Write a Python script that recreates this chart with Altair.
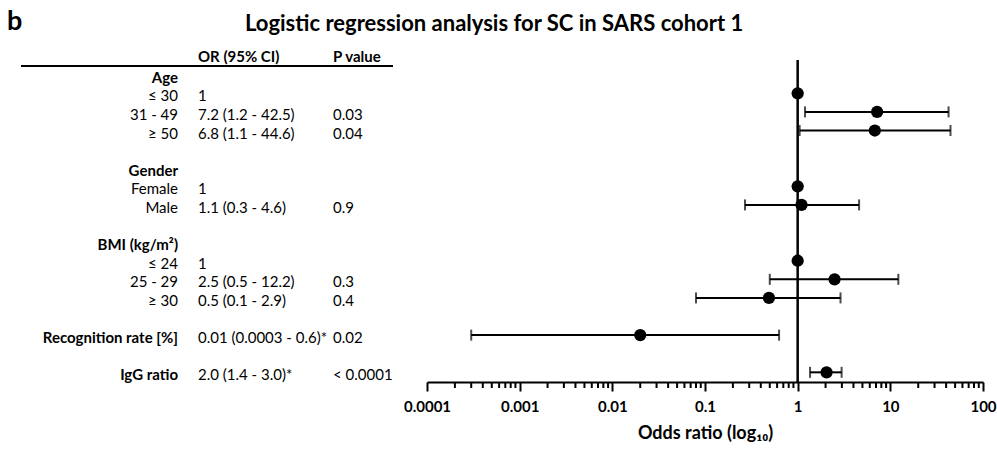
import altair as alt
import pandas as pd

# ---------------- data ----------------
row_labels = ["Age", "≤ 30", "31 - 49", "≥ 50", "",
              "Gender", "Female", "Male", "",
              "BMI (kg/m²)", "≤ 24", "25 - 29", "≥ 30", "",
              "Recognition rate [%]", "", "IgG ratio"]
is_group = [True, False, False, False, False,
            True, False, False, False,
            True, False, False, False, False,
            True, False, True]
or_text = ["", "1", "7.2 (1.2 - 42.5)", "6.8 (1.1 - 44.6)", "",
           "", "1", "1.1 (0.3 - 4.6)", "",
           "", "1", "2.5 (0.5 - 12.2)", "0.5 (0.1 - 2.9)", "",
           "0.01 (0.0003 - 0.6)*", "", "2.0 (1.4 - 3.0)*"]
p_text = ["", "", "0.03", "0.04", "",
          "", "", "0.9", "",
          "", "", "0.3", "0.4", "",
          "0.02", "", "< 0.0001"]
# plotted values
odds = [None, 1.0, 7.2, 6.8, None,
        None, 1.0, 1.1, None,
        None, 1.0, 2.5, 0.49, None,
        0.02, None, 2.05]
ci_low = [None, None, 1.2, 1.05, None,
          None, None, 0.27, None,
          None, None, 0.5, 0.08, None,
          0.0003, None, 1.36]
ci_high = [None, None, 42.5, 44.6, None,
           None, None, 4.6, None,
           None, None, 12.2, 2.9, None,
           0.63, None, 2.98]
header_text = ["OR (95% CI)", "P value"]
major_ticks = [0.0001, 0.001, 0.01, 0.1, 1, 10, 100]
minor_ticks = [k * 10.0 ** e for e in range(-4, 2) for k in range(2, 10)]

df = pd.DataFrame({
    "row": list(range(len(row_labels))),
    "label": row_labels,
    "group": is_group,
    "or_text": or_text,
    "p_text": p_text,
    "odds": odds,
    "lo": ci_low,
    "hi": ci_high,
})

W, H = 556, 322
FONT = "Lato"
X_LAB, X_OR, X_P = 178 - 427, 198 - 427, 333 - 427

xscale = alt.Scale(type="log", domain=[0.0001, 100], nice=False)
yscale = alt.Scale(domain=[-0.79, 16.52], reverse=True, nice=False, zero=False)

base = alt.Chart(df)

xaxis = alt.Axis(values=major_ticks, format="~g", grid=False,
                 domainColor="black", domainWidth=2,
                 tickColor="black", tickWidth=2, tickSize=9,
                 labelFont=FONT, labelFontWeight="bold", labelFontSize=15,
                 labelColor="black", labelPadding=8, labelFlush=False,
                 title="Odds ratio (log₁₀)", titleFont=FONT,
                 titleFontWeight="bold", titleFontSize=18,
                 titleColor="black", titlePadding=10)

refline = base.mark_rule(color="black", strokeWidth=2.5).encode(
    x=alt.X("odds:Q", scale=xscale, axis=xaxis),
).transform_filter("datum.row == 1")

# minor ticks hanging below the axis line
minor = alt.Chart(pd.DataFrame({"t": minor_ticks})).mark_tick(
    color="black", orient="vertical", thickness=2, size=6, yOffset=3,
    opacity=1).encode(
    x=alt.X("t:Q", scale=xscale),
    y=alt.value(H),
)

ci = base.transform_filter("isValid(datum.lo)")
err = ci.mark_rule(color="black", strokeWidth=2).encode(
    x=alt.X("lo:Q", scale=xscale), x2="hi:Q",
    y=alt.Y("row:Q", scale=yscale, axis=None),
)
cap_lo = ci.mark_tick(color="black", orient="vertical", size=11, thickness=2).encode(
    x=alt.X("lo:Q", scale=xscale), y=alt.Y("row:Q", scale=yscale))
cap_hi = ci.mark_tick(color="black", orient="vertical", size=11, thickness=2).encode(
    x=alt.X("hi:Q", scale=xscale), y=alt.Y("row:Q", scale=yscale))

pts = base.transform_filter("isValid(datum.odds)").mark_circle(
    color="black", opacity=1, size=150).encode(
    x=alt.X("odds:Q", scale=xscale),
    y=alt.Y("row:Q", scale=yscale),
)

txt_common = dict(font=FONT, fontSize=15, color="black", baseline="middle", dy=3)
lab_group = base.transform_filter("datum.group").mark_text(
    align="right", fontWeight="bold", **txt_common).encode(
    x=alt.value(X_LAB), y=alt.Y("row:Q", scale=yscale), text="label:N")
lab_sub = base.transform_filter("!datum.group").mark_text(
    align="right", **txt_common).encode(
    x=alt.value(X_LAB), y=alt.Y("row:Q", scale=yscale), text="label:N")
or_col = base.mark_text(align="left", **txt_common).encode(
    x=alt.value(X_OR), y=alt.Y("row:Q", scale=yscale), text="or_text:N")
p_col = base.mark_text(align="left", **txt_common).encode(
    x=alt.value(X_P), y=alt.Y("row:Q", scale=yscale), text="p_text:N")

hdr = alt.Chart(pd.DataFrame({"h": header_text, "pos": [X_OR, X_P]})).mark_text(
    align="left", fontWeight="bold", font=FONT, fontSize=15, color="black",
    baseline="middle").encode(
    x=alt.X("pos:Q", scale=None), y=alt.value(-3), text="h:N")

hline = alt.Chart(pd.DataFrame({"a": [0]})).mark_rule(color="black", strokeWidth=2).encode(
    x=alt.value(21 - 427), x2=alt.value(393 - 427), y=alt.value(6))

title_txt = alt.Chart(pd.DataFrame({"t": ["Logistic regression analysis for SC in SARS cohort 1"]})).mark_text(
    align="left", baseline="middle", font=FONT, fontSize=22, fontWeight="bold",
    color="black").encode(x=alt.value(245 - 427), y=alt.value(-36), text="t:N")
panel_txt = alt.Chart(pd.DataFrame({"t": ["b"]})).mark_text(
    align="left", baseline="middle", font=FONT, fontSize=27, fontWeight="bold",
    color="black").encode(x=alt.value(7 - 427), y=alt.value(-38), text="t:N")

chart = alt.layer(
    refline, minor, err, cap_lo, cap_hi, pts,
    lab_group, lab_sub, or_col, p_col, hdr, hline, title_txt, panel_txt,
).properties(
    width=W, height=H,
    background="white",
    autosize=alt.AutoSizeParams(type="none"),
    padding={"left": 427, "right": 14, "top": 60, "bottom": 69},
).configure_view(strokeWidth=0)

chart.save("out.html", embed_options={"renderer": "svg", "actions": False})
